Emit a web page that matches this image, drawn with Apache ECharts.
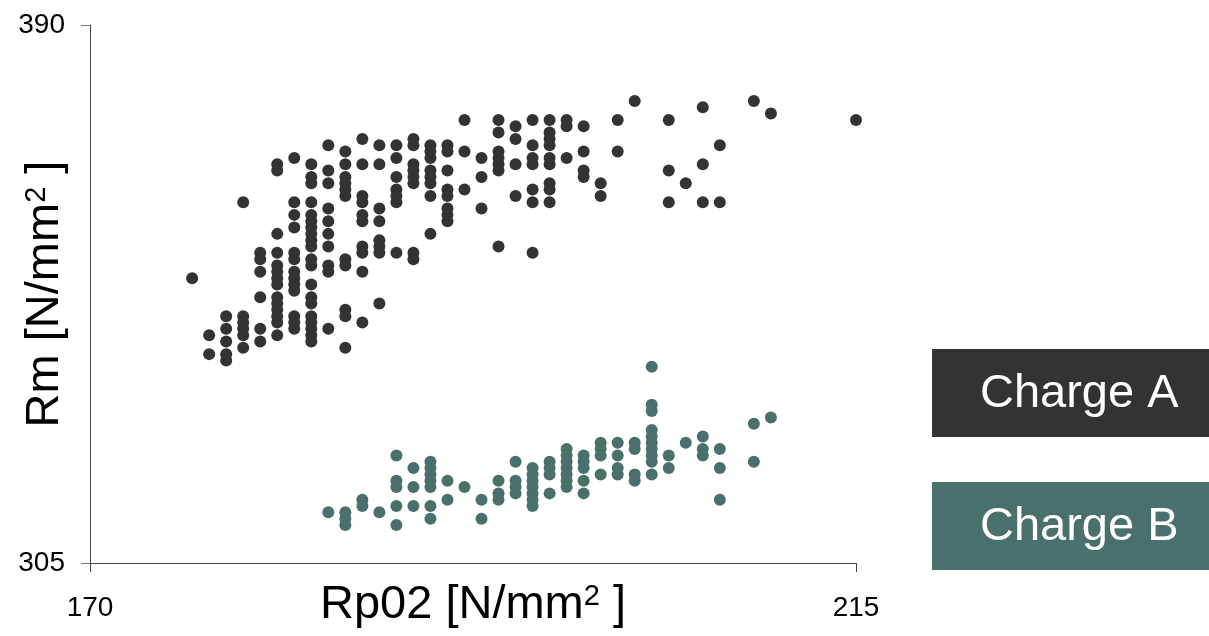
<!DOCTYPE html>
<html>
<head>
<meta charset="utf-8">
<title>Rm vs Rp02</title>
<script src="https://cdn.jsdelivr.net/npm/echarts@6/dist/echarts.min.js"></script>
<style>
  html, body { margin: 0; padding: 0; background: #fff; }
  #chart { width: 1209px; height: 636px; }
</style>
</head>
<body>
<div id="chart"></div>
<script>
// values, grouped by Rp02 column: [Rp02, [Rm values]]
const seriesNames = ['Charge A', 'Charge B'];
const seriesColors = ['#333333', '#4a706e'];

const chargeA = [
  [176, [350]],
  [177, [341, 338]],
  [178, [344, 342, 340, 338, 337]],
  [179, [362, 344, 343, 342, 341, 339]],
  [180, [354, 353, 351, 347, 342, 340]],
  [181, [368, 367, 357, 354, 352, 351, 350, 349, 347, 346, 345, 344, 343, 341]],
  [182, [369, 362, 360, 358, 354, 353, 351, 350, 349, 348, 344, 343, 342]],
  [183, [368, 366, 365, 362, 360, 359, 358, 357, 356, 355, 353, 352, 349, 347, 346, 344, 343, 342, 341, 340]],
  [184, [371, 367, 365, 361, 359, 357, 355, 352, 351, 342]],
  [185, [370, 368, 366, 365, 364, 363, 353, 352, 345, 344, 339]],
  [186, [372, 368, 363, 362, 360, 359, 355, 354, 351, 343]],
  [187, [371, 368, 361, 359, 356, 355, 354, 346]],
  [188, [371, 369, 366, 364, 363, 362, 354]],
  [189, [372, 371, 368, 367, 366, 365, 354, 353]],
  [190, [371, 370, 369, 367, 366, 365, 363, 357]],
  [191, [371, 370, 367, 364, 363, 361, 360, 359]],
  [192, [375, 370, 364]],
  [193, [369, 366, 361]],
  [194, [375, 373, 370, 369, 368, 367, 355]],
  [195, [374, 372, 368, 363]],
  [196, [375, 371, 369, 368, 364, 362, 354]],
  [197, [375, 373, 372, 371, 369, 368, 365, 364, 362]],
  [198, [375, 374, 369]],
  [199, [374, 370, 367, 366]],
  [200, [365, 363]],
  [201, [375, 370]],
  [202, [378]],
  [204, [375, 367, 362]],
  [205, [365]],
  [206, [377, 368, 362]],
  [207, [371, 362]],
  [209, [378]],
  [210, [376]],
  [215, [375]]
];

const chargeB = [
  [184, [313]],
  [185, [313, 312, 311]],
  [186, [315, 314]],
  [187, [313]],
  [188, [322, 318, 317, 314, 311]],
  [189, [320, 317, 314]],
  [190, [321, 320, 319, 318, 317, 314, 312]],
  [191, [318, 315]],
  [192, [317]],
  [193, [315, 312]],
  [194, [318, 316, 315]],
  [195, [321, 318, 317, 316]],
  [196, [320, 319, 318, 317, 316, 315, 314]],
  [197, [321, 320, 319, 316]],
  [198, [323, 322, 321, 320, 319, 318, 317]],
  [199, [322, 321, 320, 318, 316]],
  [200, [324, 323, 322, 319]],
  [201, [324, 322, 320, 319]],
  [202, [324, 323, 319, 318]],
  [203, [336, 330, 329, 326, 325, 324, 323, 322, 321, 319]],
  [204, [322, 320]],
  [205, [324]],
  [206, [325, 323, 322]],
  [207, [323, 320, 315]],
  [209, [327, 321]],
  [210, [328]]
];

const xTicks = [170, 215];
const yTicks = [305, 390];

const toPoints = (cols) => {
  const pts = [];
  cols.forEach(([x, ys]) => ys.forEach((y) => pts.push([x, y])));
  return pts;
};

const font = '"Liberation Sans", Arial, sans-serif';
const axisLineStyle = { color: '#444', width: 1 };
const titleStyle = {
  fontFamily: font,
  fontSize: 47,
  color: '#000',
  rich: { sup: { fontSize: 29, verticalAlign: 'top', fontFamily: font, color: '#000' } }
};

const chart = echarts.init(document.getElementById('chart'));

const legendBoxes = seriesNames.map((name, i) => ({
  type: 'group',
  left: 932,
  top: i === 0 ? 349 : 482,
  children: [
    { type: 'rect', shape: { x: 0, y: 0, width: 277, height: 88 }, style: { fill: seriesColors[i] } },
    {
      type: 'text',
      x: 48,
      y: 45,
      style: {
        text: name,
        fill: '#fff',
        font: '47px ' + font,
        verticalAlign: 'middle'
      }
    }
  ]
}));

chart.setOption({
  animation: false,
  grid: { left: 90, right: 353, top: 25, bottom: 73, containLabel: false, outerBoundsMode: 'none' },
  xAxis: {
    type: 'value',
    min: xTicks[0],
    max: xTicks[1],
    name: 'Rp02 [N/mm{sup|2} ]',
    nameLocation: 'middle',
    nameGap: 19,
    nameMoveOverlap: false,
    nameTextStyle: titleStyle,
    axisLine: { show: true, lineStyle: axisLineStyle },
    axisTick: { show: true, length: 9, customValues: xTicks, lineStyle: axisLineStyle },
    axisLabel: { customValues: xTicks, margin: 31, fontFamily: font, fontSize: 28, color: '#000' },
    splitLine: { show: false }
  },
  yAxis: {
    type: 'value',
    min: yTicks[0],
    max: yTicks[1],
    name: 'Rm [N/mm{sup|2} ]',
    nameLocation: 'middle',
    nameGap: 21,
    nameMoveOverlap: false,
    nameTextStyle: titleStyle,
    axisLine: { show: true, lineStyle: axisLineStyle },
    axisTick: { show: true, length: 9, customValues: yTicks, lineStyle: { color: '#777', width: 1 } },
    axisLabel: { customValues: yTicks, margin: 25, fontFamily: font, fontSize: 28, color: '#000' },
    splitLine: { show: false }
  },
  series: [
    {
      name: seriesNames[0],
      type: 'scatter',
      symbol: 'circle',
      symbolSize: 12,
      itemStyle: { color: seriesColors[0], opacity: 1 },
      data: toPoints(chargeA)
    },
    {
      name: seriesNames[1],
      type: 'scatter',
      symbol: 'circle',
      symbolSize: 12,
      itemStyle: { color: seriesColors[1], opacity: 1 },
      data: toPoints(chargeB)
    }
  ],
  graphic: legendBoxes
});
</script>
</body>
</html>
